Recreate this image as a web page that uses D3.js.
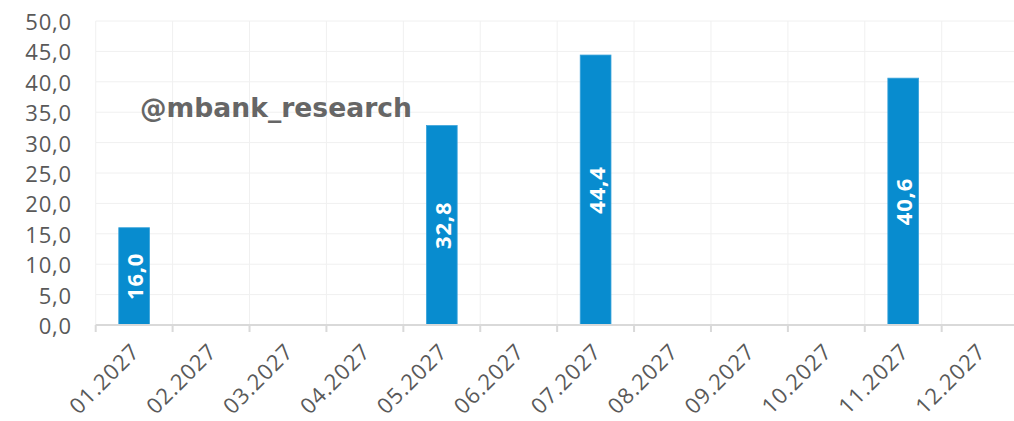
<!DOCTYPE html>
<html>
<head>
<meta charset="utf-8">
<script src="https://cdn.jsdelivr.net/npm/d3@7"></script>
<style>
  body { margin: 0; background: #fff; }
  svg { display: block; }
</style>
</head>
<body>
<div id="chart"></div>
<script>
// months on the x axis
var months = ["01.2027","02.2027","03.2027","04.2027","05.2027","06.2027",
              "07.2027","08.2027","09.2027","10.2027","11.2027","12.2027"];
// bar values, null = no bar
var values = [16.0, null, null, null, 32.8, null, 44.4, null, null, null, 40.6, null];
var yTicks = [0,5,10,15,20,25,30,35,40,45,50];

var width = 1014, height = 421;
var margin = {top: 21, left: 95.7, bottom: 96};
var plotRight = 1018.6;

var svg = d3.select("#chart").append("svg")
    .attr("width", width)
    .attr("height", height);

var x = d3.scaleBand()
    .domain(months)
    .range([margin.left, plotRight]);

var y = d3.scaleLinear()
    .domain([0, 50])
    .range([height - margin.bottom, margin.top]);

var fmt = function(v) { return d3.format(".1f")(v).replace(".", ","); };

// horizontal grid
svg.append("g")
    .selectAll("line")
    .data(yTicks.filter(function(d){ return d > 0; }))
    .enter().append("line")
    .attr("x1", margin.left).attr("x2", width)
    .attr("y1", function(d){ return y(d); })
    .attr("y2", function(d){ return y(d); })
    .attr("stroke", "#f0f0f0")
    .attr("stroke-width", 1);

// vertical grid at band boundaries
svg.append("g")
    .selectAll("line")
    .data(months)
    .enter().append("line")
    .attr("x1", function(d){ return x(d); })
    .attr("x2", function(d){ return x(d); })
    .attr("y1", y(50)).attr("y2", y(0))
    .attr("stroke", "#f0f0f0")
    .attr("stroke-width", 1);

// y labels
svg.append("g")
    .selectAll("text")
    .data(yTicks)
    .enter().append("text")
    .attr("x", 72)
    .attr("y", function(d){ return y(d); })
    .attr("text-anchor", "end")
    .attr("dominant-baseline", "central")
    .style("font-family", "'Open Sans', sans-serif")
    .style("font-size", "22px")
    .style("letter-spacing", "0.8px")
    .attr("fill", "#595959")
    .text(function(d){ return fmt(d); });

// watermark
svg.append("text")
    .attr("x", 140)
    .attr("y", 117)
    .style("font-family", "'DejaVu Sans', sans-serif")
    .style("font-weight", "bold")
    .style("font-size", "26.6px")
    .attr("fill", "#666666")
    .text("@mbank_research");

// bars
var data = months.map(function(m, i){ return {month: m, value: values[i]}; })
    .filter(function(d){ return d.value != null; });

var bw = x.bandwidth() * 0.4;

svg.append("g")
    .selectAll("rect")
    .data(data)
    .enter().append("rect")
    .attr("x", function(d){ return x(d.month) + x.bandwidth()/2 - bw/2; })
    .attr("y", function(d){ return y(d.value); })
    .attr("width", bw)
    .attr("height", function(d){ return y(0) - y(d.value); })
    .attr("fill", "#088ccf")
    .attr("stroke", "#3aa3da")
    .attr("stroke-width", 0.8);

// bar labels
svg.append("g")
    .selectAll("text")
    .data(data)
    .enter().append("text")
    .attr("transform", function(d){
        var cx = x(d.month) + x.bandwidth()/2;
        var cy = (y(d.value) + y(0)) / 2;
        return "translate(" + cx + "," + cy + ") rotate(-90)";
    })
    .attr("text-anchor", "middle")
    .attr("dominant-baseline", "central")
    .style("font-family", "'Open Sans', sans-serif")
    .style("font-weight", "bold")
    .style("font-size", "22px")
    .style("letter-spacing", "0.8px")
    .attr("fill", "#ffffff")
    .text(function(d){ return fmt(d.value); });

// x axis line + ticks
svg.append("line")
    .attr("x1", margin.left).attr("x2", width)
    .attr("y1", y(0)).attr("y2", y(0))
    .attr("stroke", "#d9d9d9")
    .attr("stroke-width", 2);

svg.append("g")
    .selectAll("line")
    .data(months)
    .enter().append("line")
    .attr("x1", function(d){ return x(d); })
    .attr("x2", function(d){ return x(d); })
    .attr("y1", y(0)).attr("y2", y(0) + 7)
    .attr("stroke", "#d9d9d9")
    .attr("stroke-width", 2);

// x labels rotated -45
svg.append("g")
    .selectAll("text")
    .data(months)
    .enter().append("text")
    .attr("transform", function(d){
        var cx = x(d) + x.bandwidth()/2 + 7;
        return "translate(" + cx + "," + (y(0) + 28) + ") rotate(-45)";
    })
    .attr("text-anchor", "end")
    .style("font-family", "'Open Sans', sans-serif")
    .style("font-size", "22px")
    .style("letter-spacing", "1px")
    .attr("fill", "#595959")
    .text(function(d){ return d; });
</script>
</body>
</html>
